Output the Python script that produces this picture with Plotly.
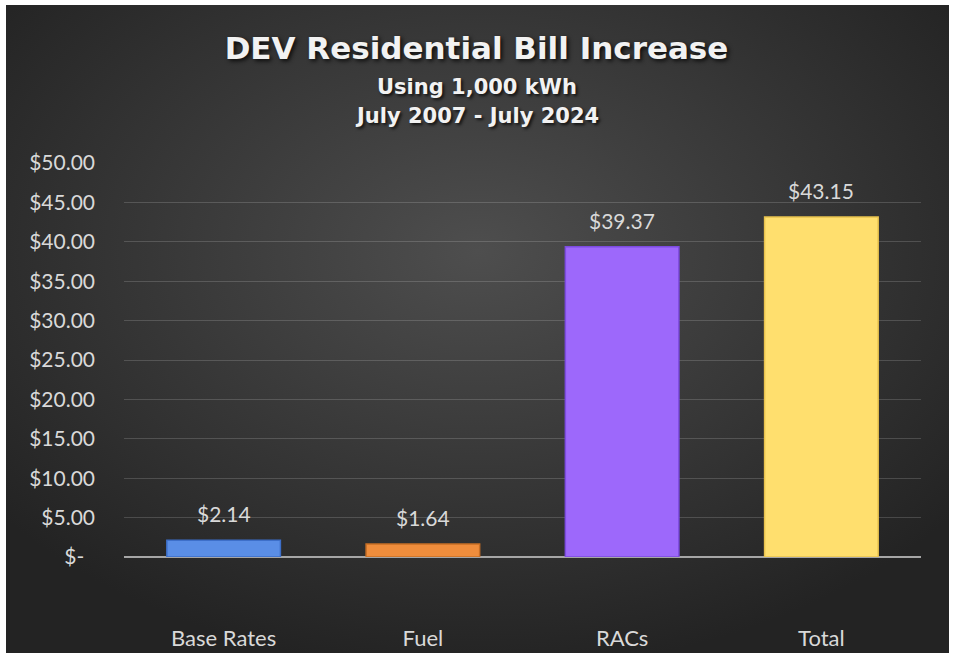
import base64
import plotly.graph_objects as go

categories = ["Base Rates", "Fuel", "RACs", "Total"]
values = [2.14, 1.64, 39.37, 43.15]
bar_colors = ["#5a8ee6", "#ef8d3c", "#9d68fb", "#ffdf6e"]
bar_edges = ["#3d6fc9", "#c86f25", "#7c4be0", "#e8c24e"]
tick_vals = [0, 5, 10, 15, 20, 25, 30, 35, 40, 45, 50]
tick_text = ["$-\u00a0\u00a0"] + [f"${v:.2f}" for v in tick_vals[1:]]

W, H = 953, 653
L, R, T, B = 124, 32, 163, 96
PW, PH = W - L - R, H - T - B

FONT = "Lato, 'Open Sans', sans-serif"
TFONT = "'DejaVu Sans', sans-serif"
TXT = "#d9d9d9"

svg = ('<svg xmlns="http://www.w3.org/2000/svg" viewBox="0 0 100 100" preserveAspectRatio="none" '
       'width="943" height="648">'
       '<defs><radialGradient id="g" cx="50%" cy="38%" r="65%">'
       '<stop offset="0%" stop-color="#4e4e4e"/><stop offset="100%" stop-color="#232323"/>'
       '</radialGradient></defs><rect x="0" y="0" width="100" height="100" fill="url(#g)"/></svg>')
src = "data:image/svg+xml;base64," + base64.b64encode(svg.encode()).decode()

# dark area in pixels
bx0, bx1, by0, by1 = 6, 949, 5, 653


def py(pix_from_top):
    """pixel row -> plot-area paper fraction"""
    return (H - B - pix_from_top) / PH


def px(pix_from_left):
    return (pix_from_left - L) / PW


fig = go.Figure()
fig.add_trace(go.Bar(
    x=categories, y=values,
    marker=dict(color=bar_colors, line=dict(color=bar_edges, width=1.5)),
    width=0.57, hoverinfo="skip",
))

annotations = []
for c, v in zip(categories, values):
    annotations.append(dict(x=c, y=v, xref="x", yref="y", text=f"${v:.2f}",
                            showarrow=False, yanchor="bottom", yshift=12,
                            font=dict(family=FONT, size=21, color=TXT)))
for txt, ypix in [("Using 1,000 kWh", 87), ("July 2007 - July 2024", 116)]:
    annotations.append(dict(x=px(W / 2), y=py(ypix), xref="paper", yref="paper", text=f"<b>{txt}</b>",
                            showarrow=False, xanchor="center", yanchor="middle",
                            font=dict(family=TFONT, size=21, color="#f2f2f2",
                                      shadow="2px 2px 3px rgba(0,0,0,0.7)")))

fig.update_layout(
    width=W, height=H, autosize=False,
    margin=dict(l=L, r=R, t=T, b=B, pad=0),
    paper_bgcolor="white",
    plot_bgcolor="rgba(0,0,0,0)",
    showlegend=False,
    title=dict(text="<b>DEV Residential Bill Increase</b>", x=0.5, xanchor="center",
               y=1 - 48 / H, yanchor="middle", xref="container", yref="container",
               font=dict(family=TFONT, size=31, color="#f2f2f2",
                         shadow="2px 2px 4px rgba(0,0,0,0.8)")),
    images=[dict(source=src, xref="paper", yref="paper",
                 x=px(bx0), y=py(by0),
                 sizex=(bx1 - bx0) / PW, sizey=(by1 - by0) / PH,
                 xanchor="left", yanchor="top", sizing="stretch", layer="below")],
    annotations=annotations,
    xaxis=dict(showgrid=False, showline=False, zeroline=False, ticks="",
               ticklabelstandoff=66, automargin=False,
               tickfont=dict(family=FONT, size=22, color=TXT), fixedrange=True),
    yaxis=dict(range=[0, 50], tickvals=tick_vals, ticktext=tick_text,
               showgrid=True, gridcolor="rgba(255,255,255,0.16)", gridwidth=1,
               zeroline=True, zerolinecolor="#a6a6a6", zerolinewidth=2,
               showline=False, ticks="", ticklabelstandoff=28, automargin=False,
               tickfont=dict(family=FONT, size=21, color=TXT), fixedrange=True),
    bargap=0.43,
)

fig.write_html("out.html", config={"displayModeBar": False, "responsive": False})
